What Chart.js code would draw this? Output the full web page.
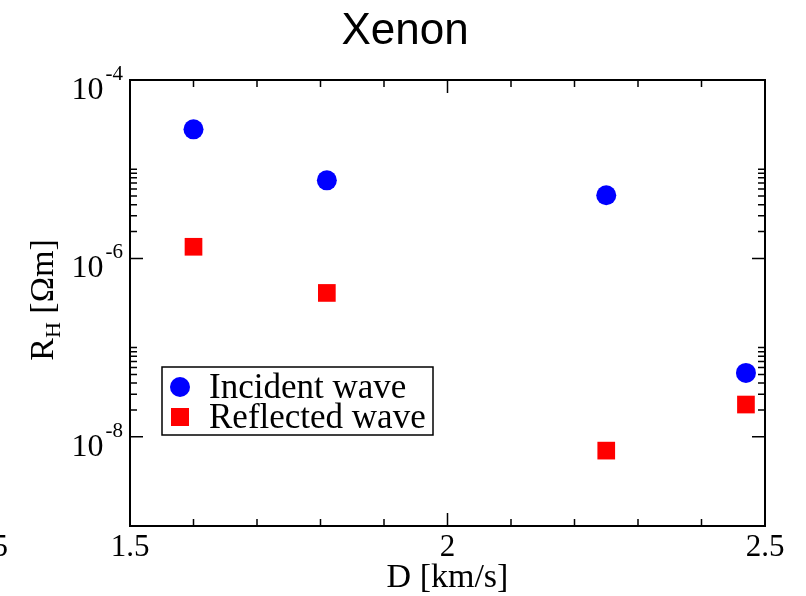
<!DOCTYPE html>
<html>
<head>
<meta charset="utf-8">
<script src="https://cdn.jsdelivr.net/npm/chart.js@4.4.1/dist/chart.umd.min.js"></script>
<style>
  html, body { margin: 0; padding: 0; background: #fff; }
  #wrap { width: 806px; height: 596px; position: relative; }
</style>
</head>
<body>
<div id="wrap"><canvas id="xenonChart"></canvas></div>
<script>
// Shock speed D [km/s]
const detonationSpeed = [1.6, 1.81, 2.25, 2.47];
// Hall coefficient R_H [Ohm m]
const incidentWave = [2.8e-5, 7.5e-6, 5.1e-6, 5.2e-8];
const reflectedWave = [1.35e-6, 4.1e-7, 7.0e-9, 2.3e-8];

const seriesLabels = ['Incident wave', 'Reflected wave'];
const xTicks = [1.5, 2, 2.5];
const xTickLabels = ['1.5', '2', '2.5'];
const yTickExponents = [-4, -6, -8];

const SERIF = '"Liberation Serif", "Times New Roman", serif';
const SANS = '"Liberation Sans", Arial, sans-serif';

function toPoints(ys) {
    return ys.map((y, i) => ({ x: detonationSpeed[i], y: y }));
}

// draws frame, inward ticks, labels, titles and the boxed legend
const gracePlugin = {
    id: 'graceStyle',
    afterDraw(chart) {
        const ctx = chart.ctx;
        const area = chart.chartArea;
        const xs = chart.scales.x;
        const ys = chart.scales.y;
        ctx.save();
        ctx.strokeStyle = '#000';
        ctx.fillStyle = '#000';

        // frame
        ctx.lineWidth = 2;
        ctx.strokeRect(area.left, area.top, area.right - area.left, area.bottom - area.top);

        // x ticks (every 0.1, major every 0.5)
        ctx.lineWidth = 1.5;
        for (let i = 0; i <= 10; i++) {
            const v = 1.5 + i * 0.1;
            const px = xs.getPixelForValue(v);
            const len = (i % 5 === 0) ? 13 : 7;
            ctx.beginPath();
            ctx.moveTo(px, area.bottom); ctx.lineTo(px, area.bottom - len);
            ctx.moveTo(px, area.top); ctx.lineTo(px, area.top + len);
            ctx.stroke();
        }

        // y ticks: major every 2 decades, minor k*10^e for k = 2..10
        yTickExponents.forEach(e => {
            const py = ys.getPixelForValue(Math.pow(10, e));
            ctx.beginPath();
            ctx.moveTo(area.left, py); ctx.lineTo(area.left + 13, py);
            ctx.moveTo(area.right, py); ctx.lineTo(area.right - 13, py);
            ctx.stroke();
            if (e - 2 >= -9) {
                for (let k = 2; k <= 10; k++) {
                    const pm = ys.getPixelForValue(k * Math.pow(10, e - 2));
                    ctx.beginPath();
                    ctx.moveTo(area.left, pm); ctx.lineTo(area.left + 7, pm);
                    ctx.moveTo(area.right, pm); ctx.lineTo(area.right - 7, pm);
                    ctx.stroke();
                }
            }
        });

        // x tick labels
        ctx.font = '31px ' + SERIF;
        ctx.textAlign = 'center';
        ctx.textBaseline = 'alphabetic';
        xTicks.forEach((v, i) => {
            ctx.fillText(xTickLabels[i], xs.getPixelForValue(v), area.bottom + 30);
        });
        // clipped label of the neighbouring panel
        ctx.textAlign = 'right';
        ctx.fillText('2.5', 8, area.bottom + 30);

        // y tick labels 10^e
        yTickExponents.forEach(e => {
            const py = ys.getPixelForValue(Math.pow(10, e));
            const right = area.left - 7;
            ctx.textAlign = 'right';
            ctx.font = '21px ' + SERIF;
            const sup = String(e);
            const supW = ctx.measureText(sup).width;
            ctx.fillText(sup, right, py);
            ctx.font = '32px ' + SERIF;
            ctx.fillText('10', right - supW - 2, py + 19);
        });

        // x axis title
        ctx.textAlign = 'center';
        ctx.font = '34px ' + SERIF;
        ctx.fillText('D [km/s]', (area.left + area.right) / 2, area.bottom + 61);

        // y axis title, rotated, with subscript
        ctx.save();
        ctx.translate(53, (area.top + area.bottom) / 2 - 3);
        ctx.rotate(-Math.PI / 2);
        ctx.textAlign = 'left';
        ctx.font = '34px ' + SERIF;
        const wR = ctx.measureText('R').width;
        const wRest = ctx.measureText(' [\u03A9m]').width;
        ctx.font = '22px ' + SERIF;
        const wH = ctx.measureText('H').width;
        let x0 = -(wR + wH + wRest) / 2;
        ctx.font = '34px ' + SERIF;
        ctx.fillText('R', x0, 0);
        ctx.font = '22px ' + SERIF;
        ctx.fillText('H', x0 + wR, 7);
        ctx.font = '34px ' + SERIF;
        ctx.fillText(' [\u03A9m]', x0 + wR + wH, 0);
        ctx.restore();

        // chart title
        ctx.textAlign = 'center';
        ctx.font = '44px ' + SANS;
        ctx.fillText('Xenon', 405, 44);

        // legend box
        const bx = 162, by = 367, bw = 271, bh = 68;
        ctx.fillStyle = '#fff';
        ctx.fillRect(bx, by, bw, bh);
        ctx.strokeStyle = '#000';
        ctx.lineWidth = 1.5;
        ctx.strokeRect(bx, by, bw, bh);
        chart.data.datasets.forEach((ds, i) => {
            const cy = by + 20 + i * 30;
            ctx.fillStyle = ds.backgroundColor;
            if (ds.pointStyle === 'circle') {
                ctx.beginPath();
                ctx.arc(180, cy, 10, 0, Math.PI * 2);
                ctx.fill();
            } else {
                ctx.fillRect(171, cy - 9, 18, 18);
            }
            ctx.fillStyle = '#000';
            ctx.textAlign = 'left';
            ctx.font = '35px ' + SERIF;
            ctx.fillText(ds.label, 209, cy + 10.5);
        });

        ctx.restore();
    }
};

new Chart(document.getElementById('xenonChart'), {
    type: 'scatter',
    data: {
        datasets: [{
            label: seriesLabels[0],
            data: toPoints(incidentWave),
            pointStyle: 'circle',
            pointRadius: 10,
            backgroundColor: '#0000ff',
            borderWidth: 0
        }, {
            label: seriesLabels[1],
            data: toPoints(reflectedWave),
            pointStyle: 'rect',
            pointRadius: 12.5,
            backgroundColor: '#ff0000',
            borderWidth: 0
        }]
    },
    options: {
        responsive: true,
        maintainAspectRatio: false,
        animation: false,
        events: [],
        layout: { padding: { left: 130, top: 80, right: 41, bottom: 70 } },
        plugins: {
            legend: { display: false },
            tooltip: { enabled: false },
            title: { display: false }
        },
        scales: {
            x: { type: 'linear', min: 1.5, max: 2.5, display: false },
            y: { type: 'logarithmic', min: 1e-9, max: 1e-4, display: false }
        }
    },
    plugins: [gracePlugin]
});
</script>
</body>
</html>
